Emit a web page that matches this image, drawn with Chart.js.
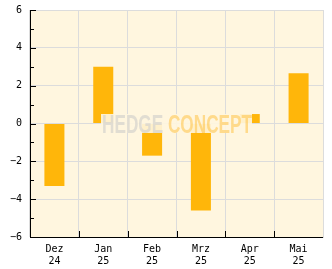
<!DOCTYPE html>
<html><head><meta charset="utf-8">
<script src="https://cdn.jsdelivr.net/npm/chart.js@4/dist/chart.umd.min.js"></script>
<style>html,body{margin:0;padding:0;background:#fff}#w{width:332px;height:269px}</style>
</head><body><div id="w"><canvas id="c"></canvas></div>
<script>
const categories = [["Dez","24"],["Jan","25"],["Feb","25"],["Mrz","25"],["Apr","25"],["Mai","25"]];
const values = [-3.3, 3.0, -1.7, -4.6, 0.5, 2.65];
const yTicks = [-6, -4, -2, 0, 2, 4, 6];
const watermarkText = ["HEDGE ", "CONCEPT"];

const FONT = {family: "'DejaVu Sans Mono', monospace", size: 10};

const plugin = {
  id: 'deco',
  beforeDraw(chart) {
    const {ctx, chartArea: a} = chart;
    ctx.save();
    ctx.fillStyle = '#FFF6DF';
    ctx.fillRect(a.left, a.top, a.right - a.left, a.bottom - a.top);
    ctx.restore();
  },
  afterDraw(chart) {
    const {ctx, chartArea: a, scales: {x, y}} = chart;
    ctx.save();
    const cx = Math.round((a.left + a.right) / 2), cy = Math.round((a.top + a.bottom) / 2);
    ctx.fillStyle = 'rgba(255,246,223,0.9)';
    ctx.fillRect(cx - 76, cy - 10, 151, 19);
    ctx.font = "bold 26px 'Liberation Sans Narrow', 'Liberation Sans', sans-serif";
    const w1 = ctx.measureText(watermarkText[0]).width;
    const w2 = ctx.measureText(watermarkText[1]).width;
    const sx = 150 / (w1 + w2);
    ctx.translate(cx - 75, cy + 9);
    ctx.scale(sx, 1);
    ctx.textBaseline = 'alphabetic';
    ctx.fillStyle = 'rgba(215,212,205,0.75)';
    ctx.fillText(watermarkText[0], 0, 0);
    ctx.fillStyle = 'rgba(255,195,70,0.55)';
    ctx.fillText(watermarkText[1], w1, 0);
    ctx.restore();

    ctx.save();
    ctx.strokeStyle = '#000';
    ctx.lineWidth = 1;
    ctx.beginPath();
    for (let v = -6; v <= 6; v++) {
      const py = Math.round(y.getPixelForValue(v)) + 0.5;
      const len = v % 2 === 0 ? 6 : 4;
      ctx.moveTo(a.left, py); ctx.lineTo(a.left + len, py);
    }
    for (let i = 1; i < categories.length; i++) {
      const px = Math.round((x.getPixelForValue(i - 1) + x.getPixelForValue(i)) / 2) + 0.5;
      ctx.moveTo(px, a.bottom); ctx.lineTo(px, a.bottom - 6);
    }
    ctx.stroke();
    ctx.beginPath();
    ctx.moveTo(Math.round(a.left) + 0.5, a.top);
    ctx.lineTo(Math.round(a.left) + 0.5, a.bottom);
    ctx.moveTo(a.left, Math.round(a.bottom) + 0.5);
    ctx.lineTo(a.right, Math.round(a.bottom) + 0.5);
    ctx.stroke();
    ctx.restore();
  }
};

new Chart(document.getElementById('c'), {
  type: 'bar',
  data: {
    labels: categories,
    datasets: [{
      data: values,
      backgroundColor: '#FFB60A',
      borderWidth: 0,
      barPercentage: 0.41,
      categoryPercentage: 1.0
    }]
  },
  options: {
    responsive: true,
    maintainAspectRatio: false,
    animation: false,
    devicePixelRatio: 1,
    layout: {padding: {top: 10, right: 9, left: 0, bottom: 0}},
    plugins: {legend: {display: false}, tooltip: {enabled: false}},
    scales: {
      x: {
        offset: true,
        grid: {offset: true, color: '#DCDCDC', drawTicks: false},
        border: {display: true, color: '#DCDCDC'},
        ticks: {color: '#000', font: FONT, padding: 6, maxRotation: 0, autoSkip: false},
        afterFit(s) { s.height = 32; s.paddingLeft = 0; s.paddingRight = 0; }
      },
      y: {
        min: -6, max: 6,
        afterBuildTicks(s) { s.ticks = yTicks.map(v => ({value: v})); },
        grid: {color: '#DCDCDC', drawTicks: false},
        border: {display: true, color: '#DCDCDC'},
        ticks: {
          color: '#000', font: FONT, padding: 8,
          callback: v => (v < 0 ? '\u2212' + Math.abs(v) : String(v))
        },
        afterFit(s) { s.width = 30; s.paddingTop = 0; s.paddingBottom = 0; }
      }
    }
  },
  plugins: [plugin]
});
</script>
</body></html>
